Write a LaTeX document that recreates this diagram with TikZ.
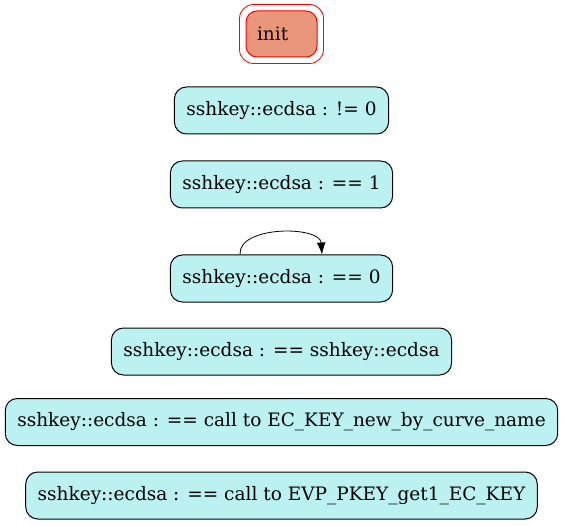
\documentclass[tikz,border=0pt]{standalone}
\usepackage{fontspec}
\setmainfont{DejaVu Serif}
\usepackage{tikz}
\usetikzlibrary{arrows.meta,positioning}
\definecolor{stcyan}{RGB}{187,241,241}
\definecolor{stsalmon}{RGB}{233,150,122}
\tikzstyle{state} = [draw=black,fill=stcyan,line width=1pt,rounded corners=12pt,minimum height=47pt,inner xsep=12pt,font=\fontsize{18.5}{21}\selectfont]
\tikzstyle{initstate} = [draw=red,fill=stsalmon,line width=1pt,rounded corners=11pt,minimum height=46pt,inner xsep=11pt,text width=49pt,align=left,font=\fontsize{18.5}{21}\selectfont]
\tikzset{>={Latex[length=12pt,width=9pt]}}

\begin{document}
\begin{tikzpicture}[x=1pt,y=1pt]
    \useasboundingbox (0,0) rectangle (564,525);
    \node [initstate] (init) at (281.5,491) {init};
    \draw [red,line width=0.8pt,rounded corners=14pt] ([shift={(-6,-6)}]init.south west) rectangle ([shift={(6,6)}]init.north east);
    \node [state] (ne0) at (281.5,414.5) {sshkey::ecdsa : != 0};
    \node [state] (eq1) at (281.5,340.5) {sshkey::ecdsa : == 1};
    \node [state] (eq0) at (281.5,246.5) {sshkey::ecdsa : == 0};
    \node [state] (eqself) at (281.5,173.5) {sshkey::ecdsa : == sshkey::ecdsa};
    \node [state] (eccurve) at (281.5,103) {sshkey::ecdsa : == call to EC\_KEY\_new\_by\_curve\_name};
    \node [state] (evpget) at (281.5,29.5) {sshkey::ecdsa : == call to EVP\_PKEY\_get1\_EC\_KEY};
    \draw [->,line width=0.8pt] ([xshift=-41.5pt]eq0.north) .. controls ++(-2,29) and ++(-2,29) .. ([xshift=40.5pt]eq0.north);
  \end{tikzpicture}
\end{document}
